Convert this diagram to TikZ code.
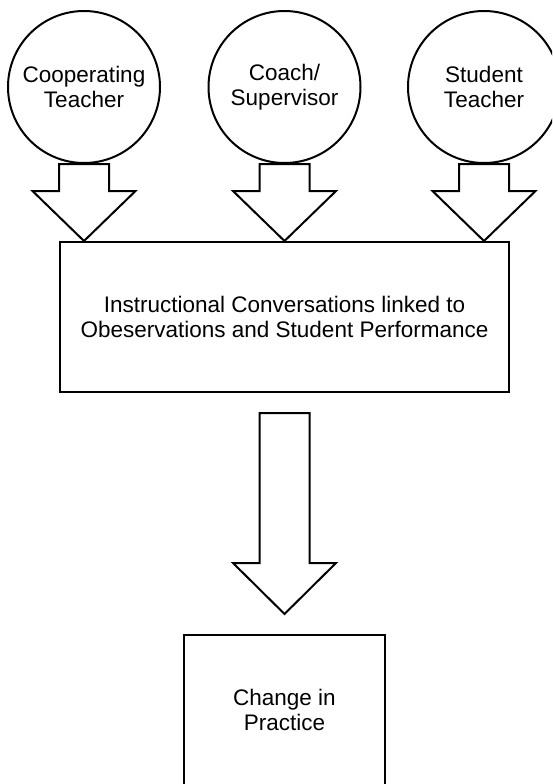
\documentclass[tikz,border=0pt]{standalone}
\usepackage{fontspec}
\setmainfont{Liberation Sans}
\usetikzlibrary{calc}
\begin{document}
\begin{tikzpicture}[x=1pt,y=1pt,
  every node/.style={font=\fontsize{22.5}{25}\selectfont, align=center, line width=2pt},
  person/.style={draw, circle, minimum size=152pt, inner sep=0pt},
  box/.style={draw, rectangle, inner sep=0pt},
  blockarrow/.style={draw, line width=2pt, line join=miter, fill=white}]
\useasboundingbox (0,0) rectangle (552,-784);
\clip (0,0) rectangle (552,-784);
\node[person] (ct) at (84,-87) {Cooperating\\Teacher};
\node[person] (cs) at (284.5,-87) {Coach/\\Supervisor};
\node[person] (st) at (484,-87) {Student\\Teacher};
\node[box, minimum width=449pt, minimum height=150pt] (main) at (284.5,-317)
  {Instructional Conversations linked to\\Obeservations and Student Performance};
\node[box, minimum width=201pt, minimum height=170pt] (chg) at (284.5,-720)
  {\raisebox{33pt}{\begin{tabular}{c}Change in\\Practice\end{tabular}}};
\foreach \src in {ct,cs,st}{
  \draw[blockarrow] let \p1=(\src.south), \p2=(main.north) in
    (\x1-25,\y1) -- (\x1-25,\y2+50) -- (\x1-51.5,\y2+50) -- (\x1,\y2)
    -- (\x1+51.5,\y2+50) -- (\x1+25,\y2+50) -- (\x1+25,\y1) -- cycle;
}
\draw[blockarrow] let \p1=(main.south), \p2=(chg.north) in
  (\x1-25,\y1-20) -- (\x1-25,\y2+71) -- (\x1-51.5,\y2+71) -- (\x1,\y2+20)
  -- (\x1+51.5,\y2+71) -- (\x1+25,\y2+71) -- (\x1+25,\y1-20) -- cycle;
\end{tikzpicture}
\end{document}
